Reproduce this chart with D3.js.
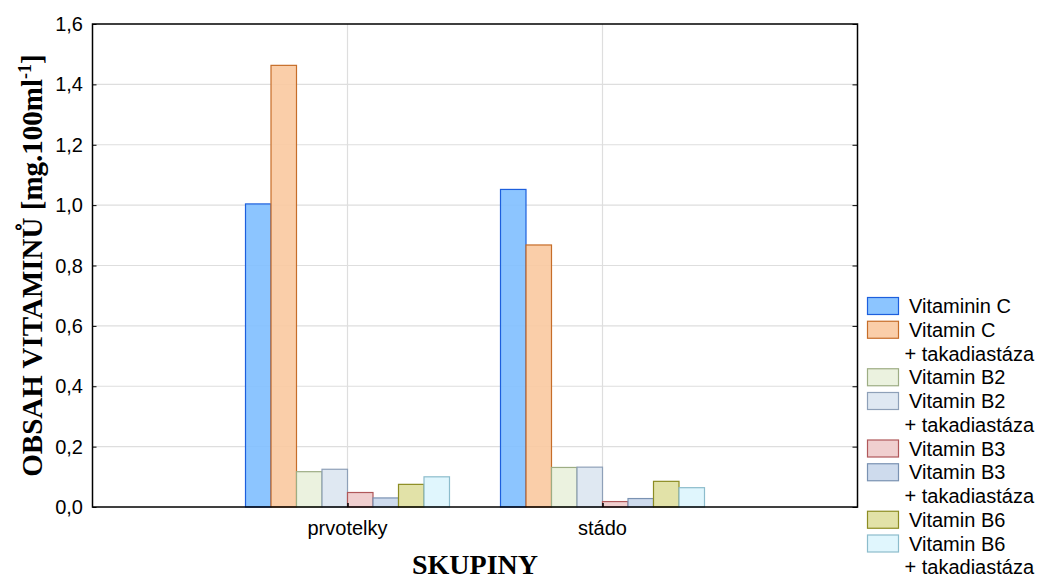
<!DOCTYPE html>
<html>
<head>
<meta charset="utf-8">
<script src="https://cdn.jsdelivr.net/npm/d3@7"></script>
<style>
  html, body { margin: 0; padding: 0; background: #fff; }
  svg { display: block; }
</style>
</head>
<body>
<svg id="chart" width="1039" height="579"></svg>
<script>
// Groups on the x axis
const categories = ["prvotelky", "stádo"];

// Series (legend order); each label may span several lines
const seriesLabels = [
  ["Vitaminin C"],
  ["Vitamin C", "+ takadiastáza"],
  ["Vitamin B2"],
  ["Vitamin B2", "+ takadiastáza"],
  ["Vitamin B3"],
  ["Vitamin B3", "+ takadiastáza"],
  ["Vitamin B6"],
  ["Vitamin B6", "+ takadiastáza"]
];

// Vitamin content [mg.100ml-1] per series, one value per group
const vitCValues      = [1.004, 1.052];
const vitCTakaValues  = [1.463, 0.868];
const vitB2Values     = [0.117, 0.131];
const vitB2TakaValues = [0.125, 0.132];
const vitB3Values     = [0.048, 0.018];
const vitB3TakaValues = [0.030, 0.028];
const vitB6Values     = [0.075, 0.085];
const vitB6TakaValues = [0.100, 0.064];

const seriesValues = [vitCValues, vitCTakaValues, vitB2Values, vitB2TakaValues,
                      vitB3Values, vitB3TakaValues, vitB6Values, vitB6TakaValues];

const yTicks = [0, 0.2, 0.4, 0.6, 0.8, 1.0, 1.2, 1.4, 1.6];

const fills   = ["#80bfff", "#f9c9a0", "#e9f1dc", "#dbe5f1", "#eecaca", "#c9d7eb", "#dfdf9f", "#ddf5fd"];
const strokes = ["#1d5fdd", "#c66d28", "#9dad84", "#8ea0b8", "#b0585a", "#7a92b2", "#8c8c22", "#8cbccc"];

const svg = d3.select("#chart");
const plot = { left: 92.5, right: 857.5, top: 24, bottom: 507 };
const sansFont = "'Liberation Sans', Arial, sans-serif";
const serifFont = "'Liberation Serif', 'Times New Roman', serif";

const x = d3.scalePoint().domain(categories).range([plot.left, plot.right]).padding(1);
const groupWidth = x.step() * 0.8;
const xs = d3.scaleBand().domain(d3.range(seriesValues.length)).range([-groupWidth / 2, groupWidth / 2]).padding(0);
const y = d3.scaleLinear().domain([0, 1.6]).range([plot.bottom, plot.top]);

// Grid lines
svg.append("g").selectAll("line.h").data(yTicks.slice(1, -1)).join("line")
  .attr("x1", plot.left).attr("x2", plot.right)
  .attr("y1", d => y(d)).attr("y2", d => y(d))
  .attr("stroke", "#dedede").attr("stroke-width", 1.2);
svg.append("g").selectAll("line.v").data(categories).join("line")
  .attr("x1", d => x(d)).attr("x2", d => x(d))
  .attr("y1", plot.top).attr("y2", plot.bottom)
  .attr("stroke", "#dedede").attr("stroke-width", 1.2);

// Bars
const bars = [];
seriesValues.forEach((vals, si) => {
  vals.forEach((v, ci) => bars.push({ si, cat: categories[ci], v }));
});
svg.append("g").selectAll("rect").data(bars).join("rect")
  .attr("x", d => x(d.cat) + xs(d.si))
  .attr("width", xs.bandwidth())
  .attr("y", d => y(d.v))
  .attr("height", d => y(0) - y(d.v))
  .attr("fill", d => fills[d.si])
  .attr("fill-opacity", 0.9)
  .attr("stroke", d => strokes[d.si])
  .attr("stroke-width", 1.2);

// Axes (inward ticks) and frame
const yAxisL = d3.axisLeft(y).tickValues(yTicks).tickSize(-4).tickFormat("");
const yAxisR = d3.axisRight(y).tickValues(yTicks).tickSize(-5).tickFormat("");
const xAxis = d3.axisBottom(x).tickSize(-4).tickFormat("");
svg.append("g").attr("transform", `translate(${plot.left},0)`).call(yAxisL)
  .call(g => g.select(".domain").remove()).selectAll("line").attr("stroke", "#000");
svg.append("g").attr("transform", `translate(${plot.right},0)`).call(yAxisR)
  .call(g => g.select(".domain").remove()).selectAll("line").attr("stroke", "#000");
svg.append("g").attr("transform", `translate(0,${plot.bottom})`).call(xAxis)
  .call(g => g.select(".domain").remove()).selectAll("line").attr("stroke", "#000").attr("stroke-width", 1.5);

svg.append("rect")
  .attr("x", plot.left).attr("y", plot.top)
  .attr("width", plot.right - plot.left).attr("height", plot.bottom - plot.top)
  .attr("fill", "none").attr("stroke", "#000").attr("stroke-width", 1.5);

// Y tick labels
const fmt = d => d3.format(".1f")(d).replace(".", ",");
svg.append("g").selectAll("text").data(yTicks).join("text")
  .attr("x", 83).attr("y", d => y(d)).attr("dy", "0.35em")
  .attr("text-anchor", "end")
  .attr("font-family", sansFont).attr("font-size", 20)
  .text(fmt);

// Category labels
svg.append("g").selectAll("text").data(categories).join("text")
  .attr("x", d => x(d)).attr("y", 535)
  .attr("text-anchor", "middle")
  .attr("font-family", sansFont).attr("font-size", 20)
  .text(d => d);

// Axis titles
svg.append("text")
  .attr("x", (plot.left + plot.right) / 2).attr("y", 574)
  .attr("text-anchor", "middle")
  .attr("font-family", serifFont).attr("font-size", 28).attr("font-weight", "bold")
  .text("SKUPINY");

const yTitle = svg.append("text")
  .attr("transform", `translate(42,${(plot.top + plot.bottom) / 2}) rotate(-90)`)
  .attr("text-anchor", "middle")
  .attr("font-family", serifFont).attr("font-size", 29).attr("font-weight", "bold");
yTitle.append("tspan").text("OBSAH VITAMINŮ [mg.100ml");
yTitle.append("tspan").attr("font-size", 18).attr("dy", -11).text("-1");
yTitle.append("tspan").attr("dy", 11).text("]");

// Legend
const legend = svg.append("g");
let row = 0;
const rowY = i => 306 + i * 23.75;
seriesLabels.forEach((lines, si) => {
  legend.append("rect")
    .attr("x", 867.5).attr("y", rowY(row) - 8.5)
    .attr("width", 31).attr("height", 17)
    .attr("fill", fills[si]).attr("fill-opacity", 0.9)
    .attr("stroke", strokes[si]).attr("stroke-width", 1.2);
  lines.forEach((ln, li) => {
    legend.append("text")
      .attr("x", li === 0 ? 909 : 904.5).attr("y", rowY(row)).attr("dy", "0.35em")
      .attr("font-family", sansFont).attr("font-size", 20)
      .text(ln);
    row++;
  });
});
</script>
</body>
</html>
